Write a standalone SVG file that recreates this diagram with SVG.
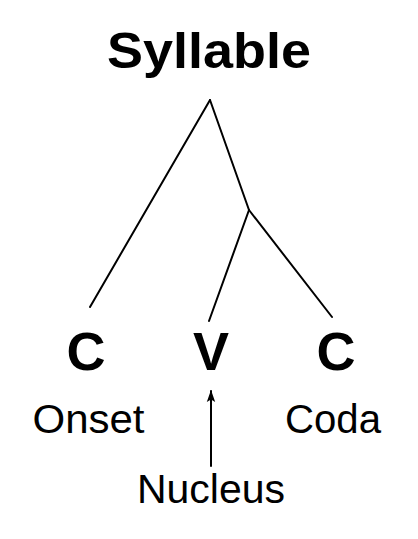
<svg xmlns="http://www.w3.org/2000/svg" width="418" height="539" viewBox="0 0 418 539">
<defs>
<style>
.bold{font-family:"Liberation Sans",Arial,sans-serif;font-weight:bold;fill:#000;text-anchor:middle}
.lbl{font-family:"Liberation Sans",Arial,sans-serif;font-size:40px;fill:#000;text-anchor:middle}
.edge{stroke:#000;stroke-width:2;fill:none;stroke-linecap:round}
</style>
<marker id="arr" markerWidth="12" markerHeight="10" refX="11" refY="5" orient="auto" markerUnits="userSpaceOnUse" viewBox="0 0 12 10">
<path d="M12,5 L0,0.8 L2.5,5 L0,9.2 Z" fill="#000"/>
</marker>
</defs>
<rect width="418" height="539" fill="#fff"/>
<g id="connectors">
<line class="edge" x1="210" y1="100" x2="90" y2="307"/>
<line class="edge" x1="210" y1="100" x2="249" y2="210"/>
<line class="edge" x1="249" y1="210" x2="209" y2="321"/>
<line class="edge" x1="249" y1="210" x2="332" y2="317"/>
<line class="edge" x1="211" y1="466" x2="211" y2="391" marker-end="url(#arr)"/>
</g>
<g id="syllable"><text class="bold" x="209" y="68" font-size="50" textLength="204" lengthAdjust="spacingAndGlyphs">Syllable</text></g>
<g id="onset-c"><text class="bold" x="86" y="370" font-size="54">C</text></g>
<g id="nucleus-v"><text class="bold" x="211" y="370" font-size="54">V</text></g>
<g id="coda-c"><text class="bold" x="336" y="370" font-size="54">C</text></g>
<g id="onset"><text class="lbl" x="88.5" y="433" textLength="112" lengthAdjust="spacingAndGlyphs">Onset</text></g>
<g id="coda"><text class="lbl" x="333" y="433" textLength="96" lengthAdjust="spacingAndGlyphs">Coda</text></g>
<g id="nucleus"><text class="lbl" x="211" y="503" textLength="148" lengthAdjust="spacingAndGlyphs">Nucleus</text></g>
</svg>
